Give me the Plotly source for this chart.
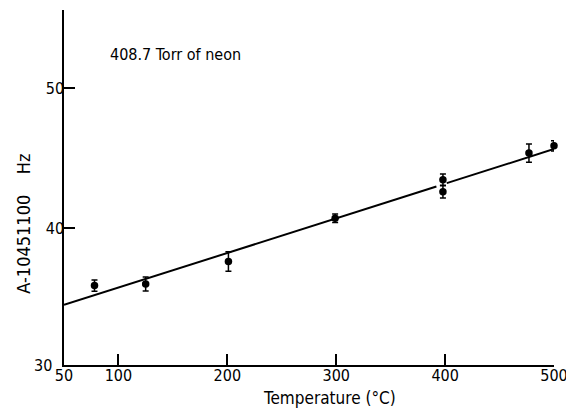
import plotly.graph_objects as go

# Data
temp_c = [78, 125, 201, 299, 398, 398, 477, 500]
freq = [35.88, 36.0, 37.6, 40.7, 43.45, 42.6, 45.36, 45.88]
err = [0.4, 0.5, 0.7, 0.3, 0.42, 0.46, 0.65, 0.37]

fit_x = [50, 392, None, 401.5, 500]
fit_y = [34.5, 42.97, None, 43.21, 45.65]

x_ticks = [50, 100, 200, 300, 400, 500]
y_ticks = [40, 50]

FONT = "DejaVu Sans Condensed"

# page body has an 8px default margin; work in screen pixels and shift
OFF = 8
W, H = 574 - OFF, 408 - OFF
L, R, T, B = 64 - OFF, 20, 10 - OFF, 408 - 365.5
pw, ph = W - L - R, H - T - B


def px(x):
    return (x - OFF - L) / pw


def py(y):
    return (H - B - (y - OFF)) / ph


fig = go.Figure()
fig.add_trace(go.Scatter(x=fit_x, y=fit_y, mode="lines",
                         line=dict(color="black", width=2), connectgaps=False,
                         showlegend=False, hoverinfo="skip"))
fig.add_trace(go.Scatter(x=temp_c, y=freq, mode="markers", cliponaxis=False,
                         marker=dict(color="black", size=7.5),
                         error_y=dict(type="data", array=err, color="black",
                                      thickness=1.5, width=3),
                         showlegend=False))

axis_common = dict(ticks="inside", ticklen=11, tickwidth=1.5, tickcolor="black",
                   showline=True, linecolor="black", linewidth=1.5,
                   showgrid=False, zeroline=False, automargin=False,
                   tickfont=dict(family=FONT, size=16, color="black"))

fig.update_layout(
    width=W, height=H,
    margin=dict(l=L, r=R, t=T, b=B, pad=0),
    paper_bgcolor="white", plot_bgcolor="white",
    font=dict(family=FONT, size=16, color="black"),
    xaxis=dict(range=[50, 500], tickvals=x_ticks, ticklabelstandoff=-5, **axis_common),
    yaxis=dict(range=[30.2, 55.6], tickvals=y_ticks, ticklabelstandoff=-5, **axis_common),
    annotations=[
        dict(x=px(108), y=py(55), xref="paper", yref="paper", text="408.7 Torr of neon",
             showarrow=False, xanchor="left", yanchor="middle",
             font=dict(family=FONT, size=16)),
        dict(x=px(54), y=py(366), xref="paper", yref="paper", text="30", showarrow=False,
             xanchor="right", yanchor="middle", font=dict(family=FONT, size=16)),
        dict(x=px(329), y=py(399), xref="paper", yref="paper", text="Temperature (°C)",
             showarrow=False, xanchor="center", yanchor="middle",
             font=dict(family=FONT, size=17)),
        dict(x=px(24), y=py(224), xref="paper", yref="paper", text="A-10451100    Hz",
             showarrow=False, xanchor="center", yanchor="middle", textangle=-90,
             font=dict(family=FONT, size=18)),
    ],
)

fig.write_html("out.html")
